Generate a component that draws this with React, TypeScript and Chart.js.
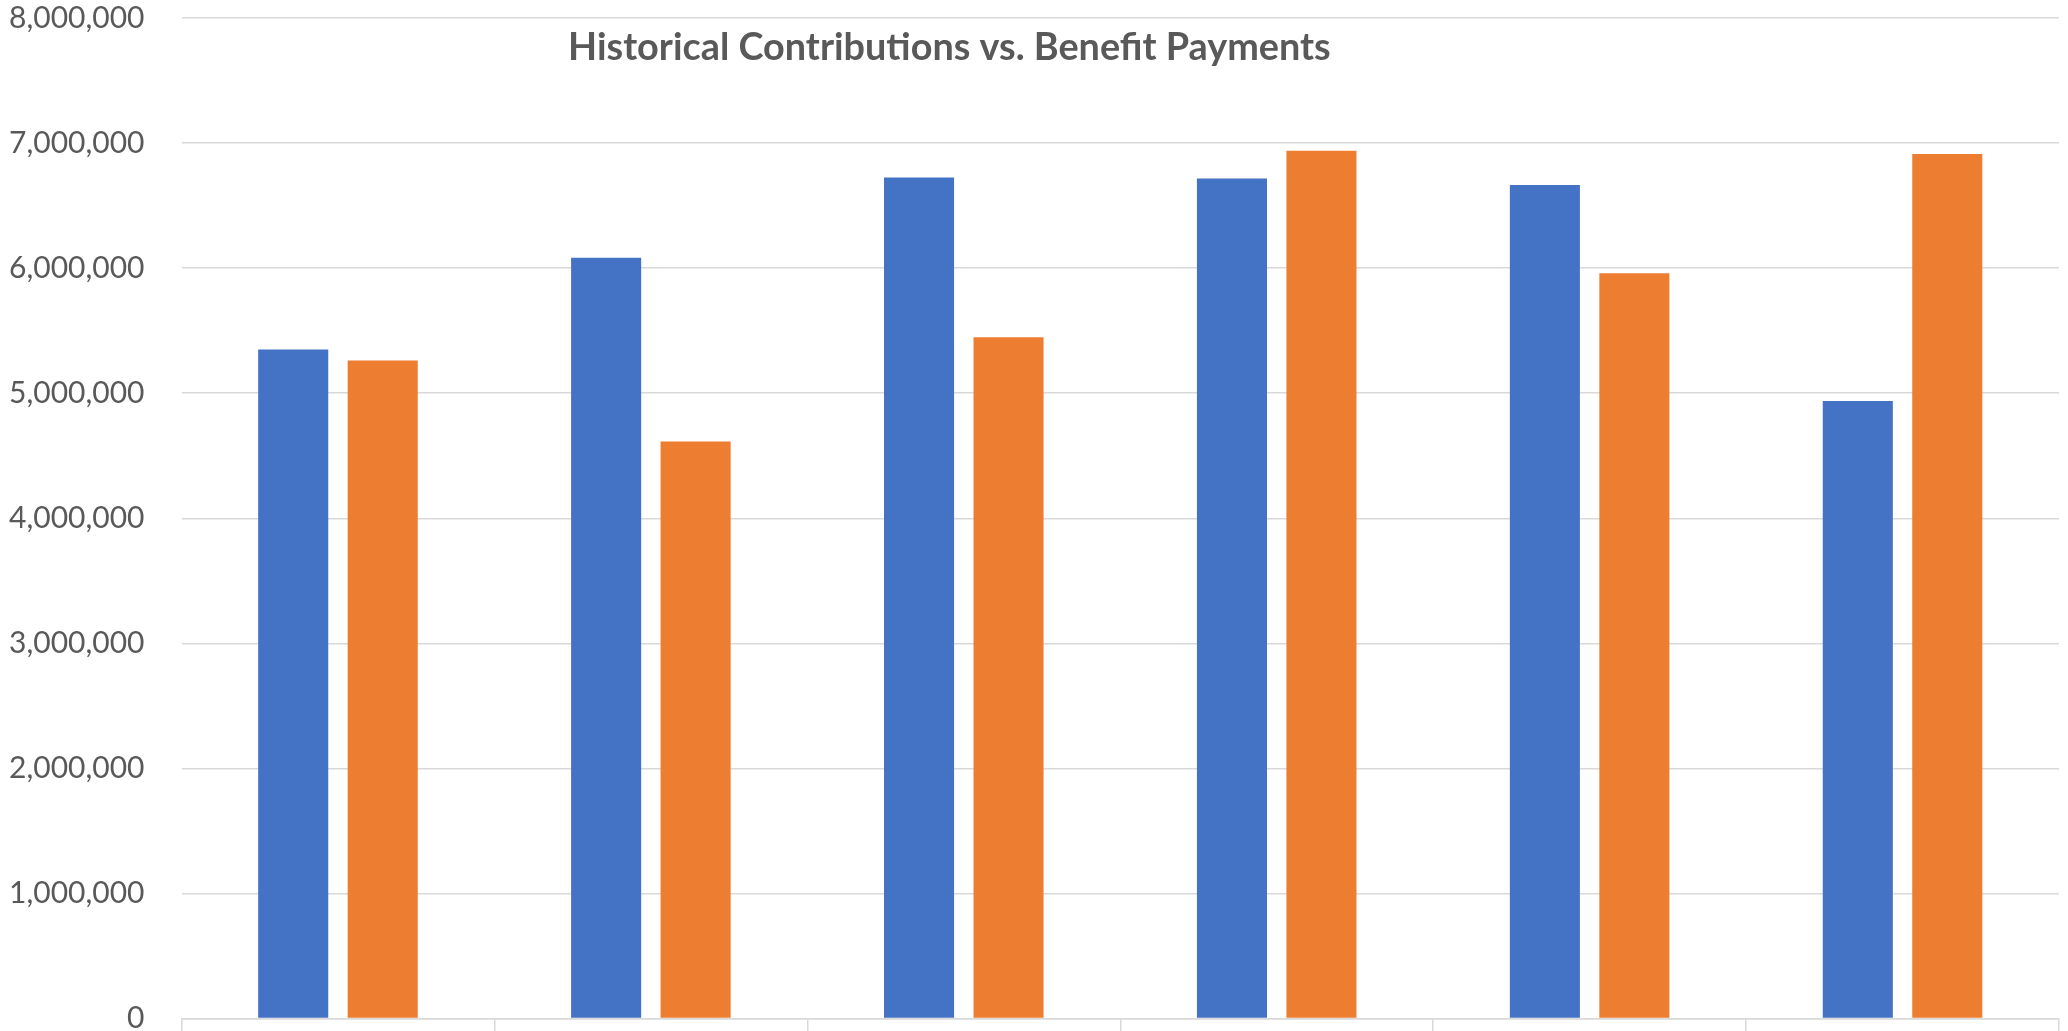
import React, { useEffect, useRef } from "react";
import { Chart, registerables } from "chart.js";

Chart.register(...registerables);

const categories = ["Period 1", "Period 2", "Period 3", "Period 4", "Period 5", "Period 6"];
const contributions = [5349000, 6082000, 6725000, 6717000, 6664000, 4938000];
const benefitPayments = [5261000, 4613000, 5448000, 6938000, 5960000, 6912000];
const yTicks = [0, 1000000, 2000000, 3000000, 4000000, 5000000, 6000000, 7000000, 8000000];
const chartTitle = "Historical Contributions vs. Benefit Payments";

const W = 2068;
const H = 1031;

const titlePlugin = {
  id: "overlayTitle",
  afterDraw(chart: any) {
    const { ctx, chartArea } = chart;
    const w = chartArea.right - chartArea.left;
    const h = chartArea.bottom - chartArea.top;
    ctx.save();
    ctx.font = "bold 37.8px Lato";
    ctx.fillStyle = "#595959";
    ctx.textAlign = "center";
    ctx.textBaseline = "middle";
    ctx.fillText(chartTitle, chartArea.left + 0.409 * w, chartArea.top + 0.0300 * h);
    ctx.restore();
  },
};

export default function App() {
  const ref = useRef<HTMLCanvasElement | null>(null);

  useEffect(() => {
    document.body.style.margin = "0";
    const canvas = ref.current;
    if (!canvas) return;
    const chart = new Chart(canvas, {
      type: "bar",
      data: {
        labels: categories,
        datasets: [
          {
            label: "Contributions",
            data: contributions,
            backgroundColor: "#4472C4",
            borderWidth: 0,
            categoryPercentage: 0.572,
            barPercentage: 0.783,
          },
          {
            label: "Benefit Payments",
            data: benefitPayments,
            backgroundColor: "#ED7D31",
            borderWidth: 0,
            categoryPercentage: 0.572,
            barPercentage: 0.783,
          },
        ],
      },
      options: {
        responsive: false,
        animation: false,
        devicePixelRatio: 1,
        layout: { autoPadding: false, padding: { top: 18, right: 9, left: 0, bottom: 0 } },
        plugins: {
          legend: { display: false },
          title: { display: false },
          tooltip: { enabled: false },
        },
        scales: {
          x: {
            grid: {
              display: true,
              drawOnChartArea: false,
              drawTicks: true,
              tickLength: 13,
              color: "#d9d9d9",
              lineWidth: 1.5,
              offset: true,
            },
            border: { display: true, color: "#d9d9d9", width: 1.5 },
            ticks: { display: false },
            afterFit(scale: any) {
              scale.height = 12.5;
              scale.paddingLeft = 0;
              scale.paddingRight = 0;
            },
          },
          y: {
            min: 0,
            max: 8000000,
            afterBuildTicks(scale: any) {
              scale.ticks = yTicks.map((v) => ({ value: v }));
            },
            grid: { color: "#d9d9d9", lineWidth: 1.5, drawTicks: false },
            border: { display: false },
            ticks: {
              padding: 37,
              color: "#595959",
              font: { family: "Lato", size: 30 },
              callback: (v: any) => Number(v).toLocaleString("en-US"),
            },
            afterFit(scale: any) {
              scale.width = 181.5;
              scale.paddingTop = 0;
              scale.paddingBottom = 0;
            },
          },
        },
      },
      plugins: [titlePlugin],
    });
    return () => chart.destroy();
  }, []);

  return (
    <div style={{ width: W, height: H, position: "relative", background: "#fff" }}>
      <canvas ref={ref} width={W} height={H} style={{ width: W, height: H, display: "block" }} />
    </div>
  );
}
